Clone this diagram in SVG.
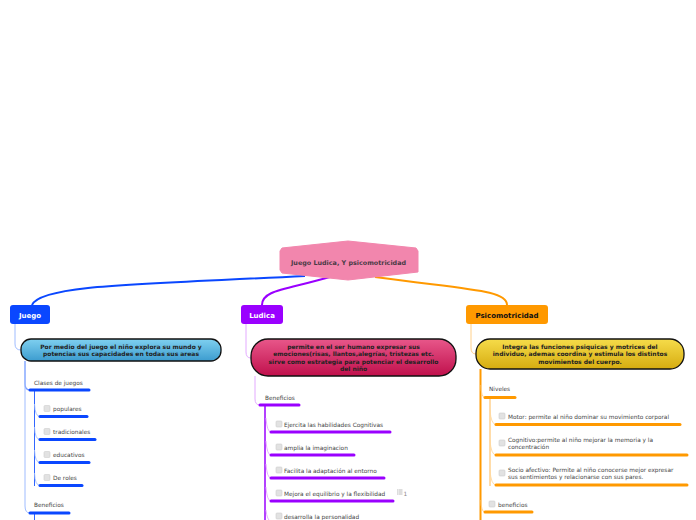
<svg xmlns="http://www.w3.org/2000/svg" width="696" height="520" viewBox="0 0 696 520">
<defs>
<linearGradient id="gBlue" x1="0" y1="0" x2="0" y2="1"><stop offset="0" stop-color="#7fd0f0"/><stop offset="1" stop-color="#3c9ccf"/></linearGradient>
<linearGradient id="gPink" x1="0" y1="0" x2="0" y2="1"><stop offset="0" stop-color="#e8578a"/><stop offset="1" stop-color="#c0104c"/></linearGradient>
<linearGradient id="gYel" x1="0" y1="0" x2="0" y2="1"><stop offset="0" stop-color="#f6dc4a"/><stop offset="1" stop-color="#d6ac10"/></linearGradient>
</defs>
<style>
.t{font-family:"DejaVu Sans",Verdana,sans-serif;font-size:5.8px;fill:#444}
.b{font-family:"DejaVu Sans",Verdana,sans-serif;font-weight:bold;font-size:6px;fill:#222;text-anchor:middle}
.lbl{font-family:"DejaVu Sans",Verdana,sans-serif;font-weight:bold;font-size:7px;text-anchor:middle}
.cb{fill:#e2e2e2;stroke:#cfcfcf;stroke-width:0.6}
.desc{stroke:#111;stroke-width:1.3}
.ub{stroke:#0a47ff;stroke-width:3;stroke-linecap:round}
.up{stroke:#9a00ff;stroke-width:3;stroke-linecap:round}
.uo{stroke:#ff9900;stroke-width:3;stroke-linecap:round}
.c{fill:none}
</style>
<g id="connectors">
<path class="c" d="M305 276 C150 284 40 284 32 305" stroke="#0a47ff" stroke-width="2"/>
<path class="c" d="M330 277 C285 290 262 290 262 305" stroke="#9a00ff" stroke-width="2"/>
<path class="c" d="M375 277 C470 290 507 290 507 305" stroke="#ff9900" stroke-width="2"/>
<path class="c" d="M15 324 V344 Q15 350 21 350" stroke="#9fbcff" stroke-width="1"/>
<path class="c" d="M246 324 V352 Q246 358 251 358" stroke="#e3aaff" stroke-width="1"/>
<path class="c" d="M471 324 V348 Q471 354 476 354" stroke="#ffd08a" stroke-width="1"/>
<path class="c" d="M25 361 V384 Q25 390 30 390" stroke="#7a9dff" stroke-width="1.3"/>
<path class="c" d="M25 361 V506 Q25 513 30 513" stroke="#9fbcff" stroke-width="1"/>
<path class="c" d="M34.5 390 V486" stroke="#1a55ff" stroke-width="0.9"/>
<path class="c" d="M34.5 404 Q35 416.5 40 416.5 M34.5 427 Q35 439.5 40 439.5 M34.5 450 Q35 462.5 40 462.5 M34.5 473 Q35 485.5 40 485.5" stroke="#9fbcff" stroke-width="0.9"/>
<path class="c" d="M34.5 513 V520" stroke="#1a55ff" stroke-width="0.9"/>
<path class="c" d="M255 376 V399 Q255 405 260 405" stroke="#e3aaff" stroke-width="1"/>
<path class="c" d="M265 405 V520" stroke="#9a00ff" stroke-width="1.5"/>
<path class="c" d="M266 418 Q267 432 271 432 M266 441 Q267 455 271 455 M266 464 Q267 478 271 478 M266 487 Q267 501 271 501 M266 510 Q267 520 271 522" stroke="#e3aaff" stroke-width="0.9"/>
<path class="c" d="M480.5 369 V520" stroke="#ff9900" stroke-width="2"/>
<path class="c" d="M481 385 Q481 397.5 485 397.5 M481 500 Q481 512 485 512" stroke="#ffcf8a" stroke-width="0.9"/>
<path class="c" d="M490 398 V486" stroke="#ffc470" stroke-width="1.2"/>
<path class="c" d="M490 410 Q491 424.5 496 424.5 M490 440 Q491 455 496 455 M490 470 Q491 485 496 485" stroke="#ffd9a0" stroke-width="0.9"/>
</g>
<g id="central">
<polygon points="282,248 348,241 416,248 418,251 418,272 348,280 282,273 280,270 280,251" fill="#f286ad" stroke="#f286ad" stroke-width="1" stroke-linejoin="round"/>
<text class="b" x="348.5" y="264.5" style="fill:#4a3a45;font-size:6.4px">Juego Ludica, Y psicomotricidad</text>
</g>
<g id="juego">
<rect x="10" y="305" width="40" height="19" rx="3" fill="#0a47ff"/>
<text class="lbl" x="30" y="317.5" fill="#fff">Juego</text>
</g>
<g id="juego-desc">
<rect class="desc" x="21" y="339" width="200" height="22" rx="10" fill="url(#gBlue)"/>
<text class="b" x="121" y="348.5">Por medio del juego el niño explora su mundo y</text>
<text class="b" x="121" y="356">potencias sus capacidades en todas sus areas</text>
</g>
<g id="clases">
<text class="t" x="34" y="385">Clases de juegos</text>
<line class="ub" x1="30" y1="390" x2="89" y2="390"/>
</g>
<g id="populares">
<rect class="cb" x="44" y="405.5" width="6" height="6" rx="1"/>
<text class="t" x="53" y="411">populares</text>
<line class="ub" x1="40" y1="416.5" x2="87" y2="416.5"/>
</g>
<g id="tradicionales">
<rect class="cb" x="44" y="428.5" width="6" height="6" rx="1"/>
<text class="t" x="53" y="434">tradicionales</text>
<line class="ub" x1="40" y1="439.5" x2="95" y2="439.5"/>
</g>
<g id="educativos">
<rect class="cb" x="44" y="451.5" width="6" height="6" rx="1"/>
<text class="t" x="53" y="457">educativos</text>
<line class="ub" x1="40" y1="462.5" x2="89" y2="462.5"/>
</g>
<g id="deroles">
<rect class="cb" x="44" y="474.5" width="6" height="6" rx="1"/>
<text class="t" x="53" y="480">De roles</text>
<line class="ub" x1="40" y1="485.5" x2="82" y2="485.5"/>
</g>
<g id="beneficios-juego">
<text class="t" x="34" y="507">Beneficios</text>
<line class="ub" x1="30" y1="513" x2="69" y2="513"/>
</g>
<g id="ludica">
<rect x="241" y="305" width="42" height="19" rx="3" fill="#9a00ff"/>
<text class="lbl" x="262" y="317.5" fill="#fff">Ludica</text>
</g>
<g id="ludica-desc">
<rect class="desc" x="251" y="339" width="205" height="37" rx="17" fill="url(#gPink)"/>
<text class="b" x="353.5" y="348.5">permite en el ser humano  expresar sus</text>
<text class="b" x="353.5" y="356">emociones(risas, llantos,alegrías, tristezas etc.</text>
<text class="b" x="353.5" y="363.5">sirve como estrategia para potenciar el desarrollo</text>
<text class="b" x="353.5" y="371">del niño</text>
</g>
<g id="beneficios-ludica">
<text class="t" x="265" y="400">Beneficios</text>
<line class="up" x1="260" y1="405" x2="299" y2="405"/>
</g>
<g id="ejercita">
<rect class="cb" x="276" y="421" width="6" height="6" rx="1"/>
<text class="t" x="284" y="426.5">Ejercita las habilidades Cognitivas</text>
<line class="up" x1="271" y1="432" x2="390" y2="432"/>
</g>
<g id="amplia">
<rect class="cb" x="276" y="444" width="6" height="6" rx="1"/>
<text class="t" x="284" y="449.5">amplia la imaginacion</text>
<line class="up" x1="271" y1="455" x2="354" y2="455"/>
</g>
<g id="facilita">
<rect class="cb" x="276" y="467" width="6" height="6" rx="1"/>
<text class="t" x="284" y="472.5">Facilita la adaptación al entorno</text>
<line class="up" x1="271" y1="478" x2="384" y2="478"/>
</g>
<g id="mejora">
<rect class="cb" x="276" y="490" width="6" height="6" rx="1"/>
<text class="t" x="284" y="495.5">Mejora el equilibrio y la flexibilidad</text>
<line class="up" x1="271" y1="501" x2="393" y2="501"/>
<g fill="#bbb"><rect x="397.5" y="489" width="0.8" height="6"/><rect x="399" y="489.5" width="3.5" height="1"/><rect x="399" y="491.5" width="3.5" height="1"/><rect x="399" y="493.5" width="3.5" height="1"/></g>
<text class="t" x="403.5" y="495.5" style="fill:#888">1</text>
</g>
<g id="desarrolla">
<rect class="cb" x="276" y="513" width="6" height="6" rx="1"/>
<text class="t" x="284" y="518.5">desarrolla la personalidad</text>
</g>
<g id="psico">
<rect x="466" y="305" width="82" height="19" rx="3" fill="#ff9900"/>
<text class="lbl" x="507" y="317.5" fill="#111">Psicomotricidad</text>
</g>
<g id="psico-desc">
<rect class="desc" x="476" y="339" width="208" height="30" rx="14" fill="url(#gYel)"/>
<text class="b" x="580" y="348.5">Integra las funciones psiquicas y motrices del</text>
<text class="b" x="580" y="356">individuo, ademas coordina y estimula los distintos</text>
<text class="b" x="580" y="363.5">movimientos del cuerpo.</text>
</g>
<g id="niveles">
<text class="t" x="489" y="391">Niveles</text>
<line class="uo" x1="485" y1="397.5" x2="515" y2="397.5"/>
</g>
<g id="motor">
<rect class="cb" x="499" y="413" width="6" height="6" rx="1"/>
<text class="t" x="508" y="418.5">Motor: permite al niño dominar su movimiento corporal</text>
<line class="uo" x1="496" y1="424.5" x2="680" y2="424.5"/>
</g>
<g id="cognitivo">
<rect class="cb" x="499" y="440" width="6" height="6" rx="1"/>
<text class="t" x="508" y="441.5">Cognitivo:permite al niño mejorar la memoria y la</text>
<text class="t" x="508" y="448.5">concentración</text>
<line class="uo" x1="496" y1="455" x2="687" y2="455"/>
</g>
<g id="socio">
<rect class="cb" x="499" y="470" width="6" height="6" rx="1"/>
<text class="t" x="508" y="471.5">Socio afectivo: Permite al niño conocerse mejor expresar</text>
<text class="t" x="508" y="479">sus sentimientos y relacionarse con sus pares.</text>
<line class="uo" x1="496" y1="485" x2="687" y2="485"/>
</g>
<g id="beneficios-psico">
<rect class="cb" x="489" y="501" width="6" height="6" rx="1"/>
<text class="t" x="498" y="506.5">beneficios</text>
<line class="uo" x1="485" y1="512" x2="532" y2="512"/>
</g>
</svg>
